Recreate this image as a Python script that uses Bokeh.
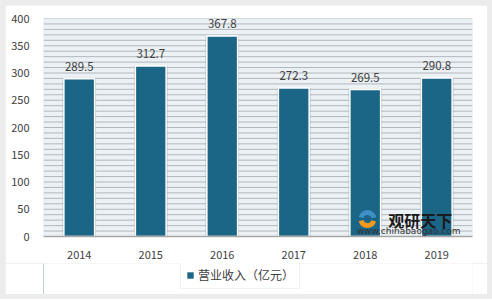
from bokeh.plotting import figure
from bokeh.models import Range1d, Legend, LegendItem, Label, SingleIntervalTicker, ColumnDataSource
from bokeh.layouts import column
from bokeh.embed import file_html
from bokeh.resources import INLINE

years = ["2014", "2015", "2016", "2017", "2018", "2019"]
revenue = [289.5, 312.7, 367.8, 272.3, 269.5, 290.8]
series_name = "营业收入（亿元）"
y_max = 400
grid_levels = list(range(10, y_max + 1, 10))

FONT = "Noto Sans CJK SC"
BAR = "#1b6587"

src = ColumnDataSource(dict(x=years, top=revenue, label=[f"{v:.1f}" for v in revenue]))

p = figure(x_range=years, y_range=Range1d(0, y_max), width=482, height=258,
           output_backend="svg", toolbar_location=None,
           min_border_left=38, min_border_right=15, min_border_top=13, min_border_bottom=27)
p.background_fill_color = "#ecf1f6"
p.border_fill_color = "white"
p.outline_line_color = None

p.yaxis.ticker = SingleIntervalTicker(interval=50)
p.xgrid.visible = False
p.ygrid.visible = False

# plot-area background and horizontal rules, drawn as glyphs before the bars
n = len(years)
p.quad(left=[0], right=[n], bottom=[0], top=[y_max], fill_color="#ecf1f6",
       line_color=None)
p.segment(x0=[0] * len(grid_levels), x1=[n] * len(grid_levels),
          y0=grid_levels, y1=grid_levels, line_color="#b2b7bd", line_width=1)

# axes
for ax in (p.xaxis[0], p.yaxis[0]):
    ax.major_label_text_font = FONT
    ax.major_label_text_font_size = "11px"
    ax.major_label_text_color = "#404040"
    ax.major_tick_line_color = None
    ax.minor_tick_line_color = None
p.yaxis.axis_line_color = None
p.xaxis.axis_line_color = "#a6a6a6"
p.xaxis.axis_line_width = 1.5
p.xaxis.major_label_standoff = 8
p.yaxis.major_label_standoff = 8

# shadow bars
p.vbar(x="x", top="top", width=0.47, source=src, fill_color="#7a7a7a",
       fill_alpha=0.35, line_color=None)
# bars
p.vbar(x="x", top="top", width=0.43, source=src, fill_color=BAR,
       line_color="white", line_width=1.5)

# value labels
p.text(x="x", y="top", text="label", source=src, text_align="center",
       text_baseline="bottom", y_offset=-8, text_font_size="11.5px",
       text_color="#404040", text_font={"value": FONT})

# watermark
p.annular_wedge(x=[4.53], y=[32], inner_radius=4, outer_radius=9,
                start_angle=[3.4], end_angle=[6.0], inner_radius_units="screen",
                outer_radius_units="screen", fill_color="#f39a1e", line_color=None)
p.annular_wedge(x=[4.53], y=[32], inner_radius=4, outer_radius=9,
                start_angle=[0.2], end_angle=[2.9], inner_radius_units="screen",
                outer_radius_units="screen", fill_color="#3f8fc8", line_color=None)
p.add_layout(Label(x=4.82, y=31, text="观研天下", text_font=FONT,
                   text_font_size="16px", text_font_style="bold",
                   text_color="#1a1a1a", text_baseline="middle"))
p.add_layout(Label(x=4.38, y=1, text="www.chinabaogao.com", text_font="DejaVu Sans",
                   text_font_size="9px", text_color="#333333", text_baseline="bottom"))

# legend figure
lg = figure(x_range=Range1d(0, 1), y_range=Range1d(0, 1), width=482, height=31,
            output_backend="svg", toolbar_location=None,
            min_border_left=38, min_border_right=15, min_border_top=0, min_border_bottom=0,
            x_axis_type=None, y_axis_type=None)
lg.outline_line_color = None
lg.background_fill_color = "white"
lg.border_fill_color = "white"
r = lg.vbar(x=[-5], top=[1], width=0.1, fill_color=BAR, line_color=None)
legend = Legend(items=[LegendItem(label=series_name, renderers=[r])],
                location=(137, 5), orientation="horizontal",
                label_text_font=FONT, label_text_font_size="12px",
                label_text_color="#404040", glyph_width=8, glyph_height=8,
                label_standoff=4, padding=5, margin=0,
                border_line_color="#e6e6e6", background_fill_color="white",
                background_fill_alpha=1.0)
lg.add_layout(legend)

layout = column(p, lg, spacing=0,
                styles={"background-color": "#ececec", "padding": "5px"})

open("out.html", "w").write(file_html(layout, INLINE))
